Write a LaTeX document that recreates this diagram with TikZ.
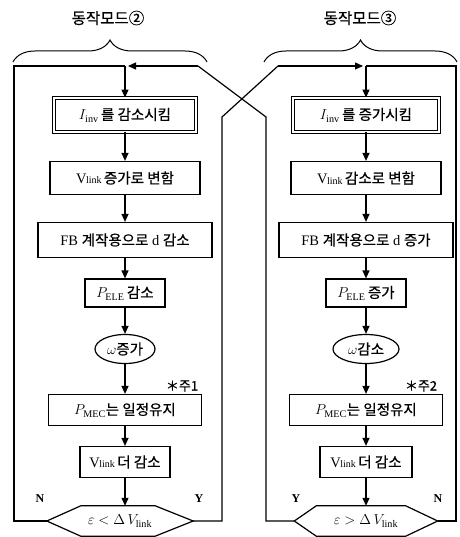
\documentclass[tikz,border=0pt]{standalone}
\usepackage{fontspec}
\setmainfont{Liberation Serif}
\newfontfamily\kr[FakeBold=0.6]{Noto Sans CJK KR}
\usetikzlibrary{arrows.meta,decorations.pathreplacing,calc}
\newcommand\K[1]{{\kr #1}}
\newcommand\Vl{V\kern-0.5pt\raisebox{-0.5pt}{\fontsize{10}{10}\selectfont link}}
\tikzset{
  ln/.style={line width=1.2pt},
  arr/.style={line width=1.2pt,-{Triangle[length=8pt,width=7pt]}},
  box/.style={draw,line width=1.2pt,minimum height=30pt,inner sep=2pt,font=\fontsize{14.5}{16}\selectfont},
  dbox/.style={box,double,line width=0.9pt,double distance=1.8pt},
  ell/.style={draw,ellipse,line width=1.2pt,minimum width=60pt,minimum height=29pt,inner sep=0pt,font=\fontsize{14.5}{16}\selectfont},
  hexa/.style={minimum width=146pt,minimum height=30pt,inner sep=0pt,font=\fontsize{14.5}{16}\selectfont},
  lab/.style={font=\fontsize{15.5}{17}\selectfont},
  note/.style={font=\fontsize{13}{15}\selectfont},
  yn/.style={font=\fontsize{12}{14}\selectfont\bfseries},
  brc/.style={line width=1pt,decorate,decoration={brace,amplitude=22pt}}
}
\usetikzlibrary{shapes.geometric}
\begin{document}
\begin{tikzpicture}[x=1pt,y=-1pt]
\useasboundingbox (0,0) rectangle (459,537);
% labels and braces
\node[lab] (t2) at (108,18) {\K{동작모드②}};
\node[lab] (t3) at (360,18) {\K{동작모드③}};
\coordinate (b2a) at (13,62); \coordinate (b2b) at (207,62);
\coordinate (b3a) at (264,62); \coordinate (b3b) at (457,62);
\draw[brc] (b2a) -- (b2b);
\draw[brc] (b3a) -- (b3b);
% left chart
\node[dbox,minimum width=142pt,minimum height=34pt] (L1) at (125,115) {$I_{\mathrm{inv}}$\,\K{를 감소시킴}};
\node[box,minimum width=150pt,minimum height=33pt] (L2) at (125,178) {\Vl\,\K{증가로 변함}};
\node[box,minimum width=174pt,minimum height=35pt] (L3) at (125,240) {FB \K{계작용으로} d \K{감소}};
\node[box,minimum width=80pt,minimum height=28pt] (L4) at (125,293) {$P_{\mathrm{ELE}}$\,\K{감소}};
\node[ell] (L5) at (125,349) {$\omega$\K{증가}};
\node[note] (n1) at (182,386) {\K{＊주1}};
\node[box,minimum width=153pt,minimum height=31pt] (L6) at (125,410) {$P_{\mathrm{MEC}}$\K{는 일정유지}};
\node[box,minimum width=90pt,minimum height=31pt] (L7) at (125,462) {\Vl\,\K{더 감소}};
\node[hexa] (L8) at (120,521) {$\varepsilon < \Delta\, V_{\mathrm{link}}$};
\draw[ln] (L8.west) -- ([xshift=34pt]L8.north west) -- ([xshift=-38pt]L8.north east) -- (L8.east)
  -- ([xshift=-38pt]L8.south east) -- ([xshift=34pt]L8.south west) -- cycle;
\node[yn] (nL) at (40,499) {N};
\node[yn] (yL) at (199,499) {Y};
% right chart
\node[dbox,minimum width=146pt,minimum height=34pt] (R1) at (366,115) {$I_{\mathrm{inv}}$\,\K{를 증가시킴}};
\node[box,minimum width=150pt,minimum height=33pt] (R2) at (366,178) {\Vl\,\K{감소로 변함}};
\node[box,minimum width=174pt,minimum height=35pt] (R3) at (366,240) {FB \K{계작용으로} d \K{증가}};
\node[box,minimum width=80pt,minimum height=28pt] (R4) at (366,293) {$P_{\mathrm{ELE}}$\,\K{증가}};
\node[ell,minimum width=66pt] (R5) at (366,349) {$\omega$\K{감소}};
\node[note] (n2) at (421,386) {\K{＊주2}};
\node[box,minimum width=153pt,minimum height=31pt] (R6) at (366,410) {$P_{\mathrm{MEC}}$\K{는 일정유지}};
\node[box,minimum width=92pt,minimum height=31pt] (R7) at (366,462) {\Vl\,\K{더 감소}};
\node[hexa,minimum width=143pt] (R8) at (366,521) {$\varepsilon > \Delta\, V_{\mathrm{link}}$};
\draw[ln] (R8.west) -- ([xshift=22pt]R8.north west) -- ([xshift=-32pt]R8.north east) -- (R8.east)
  -- ([xshift=-32pt]R8.south east) -- ([xshift=22pt]R8.south west) -- cycle;
\node[yn] (yR) at (296,499) {Y};
\node[yn] (nR) at (438,499) {N};
% junction coordinates
\coordinate (jL) at (125,66);
\coordinate (jR) at (366,66);
\coordinate (cLt) at (14,66); \coordinate (cLb) at (14,521);
\coordinate (cRt) at (456,66); \coordinate (cRb) at (456,521);
\coordinate (xL) at (198,66); \coordinate (xR) at (278,66);
\coordinate (yLb) at (222,521); \coordinate (yLt) at (222,117);
\coordinate (yRb) at (266,521); \coordinate (yRt) at (266,117);
% loops
\draw[ln] (L8.west) -- (cLb) -- (cLt) -- (jL);
\draw[ln] (R8.east) -- (cRb) -- (cRt) -- (jR);
\draw[ln] (L8.east) -- (yLb) -- (yLt) -- (xR);
\draw[ln] (R8.west) -- (yRb) -- (yRt) -- (xL);
\draw[arr,shorten >=3pt] (xL) -- (jL);
\draw[arr,shorten >=3pt] (xR) -- (jR);
% vertical flow
\draw[arr] (jL) -- (L1.north);
\draw[arr] (L1.south) -- (L2.north);
\draw[arr] (L2.south) -- (L3.north);
\draw[arr] (L3.south) -- (L4.north);
\draw[arr] (L4.south) -- (L5.north);
\draw[arr] (L5.south) -- (L6.north);
\draw[arr] (L6.south) -- (L7.north);
\draw[arr] (L7.south) -- (L7.south |- L8.north);
\draw[arr] (jR) -- (R1.north);
\draw[arr] (R1.south) -- (R2.north);
\draw[arr] (R2.south) -- (R3.north);
\draw[arr] (R3.south) -- (R4.north);
\draw[arr] (R4.south) -- (R5.north);
\draw[arr] (R5.south) -- (R6.north);
\draw[arr] (R6.south) -- (R7.north);
\draw[arr] (R7.south) -- (R7.south |- R8.north);
\end{tikzpicture}
\end{document}
